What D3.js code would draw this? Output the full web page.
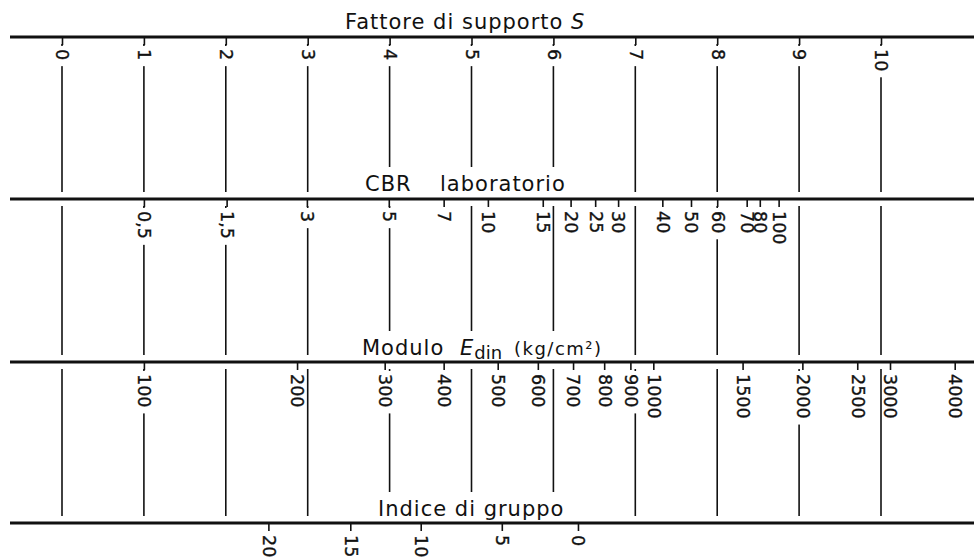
<!DOCTYPE html>
<html>
<head>
<meta charset="utf-8">
<script src="https://cdn.jsdelivr.net/npm/d3@7"></script>
<style>
  body { margin: 0; background: #fff; }
  svg { display: block; font-family: "DejaVu Sans", sans-serif; }
</style>
</head>
<body>
<div id="chart"></div>
<script>
// support factor S, the reference scale of the nomogram
const sValues = [0, 1, 2, 3, 4, 5, 6, 7, 8, 9, 10]

// laboratory CBR, with the S value each tick lines up with
const cbrValues = [0.5, 1.5, 3, 5, 7, 10, 15, 20, 25, 30, 40, 50, 60, 70, 80, 100]
const cbrAtS = [1.00, 2.01, 2.99, 3.99, 4.66, 5.20, 5.87, 6.21, 6.51, 6.79, 7.33, 7.68, 8.00, 8.36, 8.52, 8.75]

// dynamic modulus E din (kg/cm2)
const edinValues = [100, 200, 300, 400, 500, 600, 700, 800, 900, 1000, 1500, 2000, 2500, 3000, 4000]
const edinAtS = [1.00, 2.87, 3.94, 4.66, 5.32, 5.81, 6.24, 6.62, 6.94, 7.22, 8.31, 9.04, 9.71, 10.11, 10.90]

// group index
const groupValues = [20, 15, 10, 5, 0]
const groupAtS = [2.52, 3.52, 4.38, 5.37, 6.30]

const width = 974
const height = 560
const axisY = [37, 199, 362, 523]
const gap = 7
const ink = "#111"

const svg = d3.select("#chart")
  .append("svg")
  .attr("width", width)
  .attr("height", height)

svg.append("rect")
  .attr("width", width)
  .attr("height", height)
  .attr("fill", "#fff")

var s = d3.scaleLinear()
  .domain([0, 10])
  .range([62, 881])

// the other scales are piecewise, through their S equivalents
var cbr = d3.scaleLinear().domain(cbrValues).range(cbrAtS.map(s))
var edin = d3.scaleLinear().domain(edinValues).range(edinAtS.map(s))
var group = d3.scaleLinear().domain(groupValues).range(groupAtS.map(s))

const guides = svg.append("g")
const masks = svg.append("g")
const front = svg.append("g")

// vertical guide lines at every S value, broken at each axis
for (let i = 0; i < 3; i++) {
  guides.selectAll(null)
    .data(sValues)
    .enter()
    .append("line")
      .attr("x1", d => s(d))
      .attr("x2", d => s(d))
      .attr("y1", axisY[i] + gap)
      .attr("y2", axisY[i + 1] - gap)
      .attr("stroke", ink)
      .attr("stroke-width", 1.6)
}

const comma = d => String(d).replace(".", ",")

function drawAxis(scale, values, y) {
  const g = front.append("g")
    .attr("transform", "translate(0," + y + ")")
    .call(d3.axisBottom(scale).tickValues(values).tickSize(8).tickFormat(comma))
  g.attr("font-family", null).attr("font-size", null)
  g.select(".domain").remove()
  g.selectAll(".tick line")
    .attr("stroke", ink)
    .attr("stroke-width", 1.6)
  g.selectAll(".tick text")
    .attr("x", 12)
    .attr("y", 0)
    .attr("dy", "0.35em")
    .attr("text-anchor", "start")
    .attr("transform", "rotate(90)")
    .attr("fill", ink)
    .attr("stroke", ink)
    .attr("stroke-width", 0.35)
    .style("font-size", "17.5px")

  // white box under each label so guide lines stop around it
  g.selectAll(".tick text").each(function(d) {
    const len = this.getComputedTextLength()
    masks.append("rect")
      .attr("x", scale(d) - 7.5)
      .attr("y", y + 9)
      .attr("width", 15)
      .attr("height", len + 9)
      .attr("fill", "#fff")
  })

  front.append("line")
    .attr("x1", 10)
    .attr("x2", width)
    .attr("y1", y)
    .attr("y2", y)
    .attr("stroke", ink)
    .attr("stroke-width", 3.2)
}

drawAxis(s, sValues, axisY[0])
drawAxis(cbr, cbrValues, axisY[1])
drawAxis(edin, edinValues, axisY[2])
drawAxis(group, groupValues, axisY[3])

// axis titles
function title(x, y) {
  return front.append("text")
    .attr("x", x)
    .attr("y", y)
    .attr("fill", ink)
    .style("font-size", "21px")
    .style("letter-spacing", "1px")
}

function maskTitle(t) {
  const b = t.node().getBBox()
  masks.append("rect")
    .attr("x", b.x - 2)
    .attr("y", b.y - 5)
    .attr("width", b.width + 4)
    .attr("height", b.height + 5)
    .attr("fill", "#fff")
}

const t1 = title(345, 29)
t1.append("tspan").text("Fattore di supporto ")
t1.append("tspan").style("font-style", "italic").text("S")

const t2 = title(365, 191)
t2.append("tspan").text("CBR")
t2.append("tspan").attr("x", 440).text("laboratorio")
maskTitle(t2)

const t3 = title(362, 355)
t3.append("tspan").text("Modulo")
t3.append("tspan").attr("x", 460).style("font-style", "italic").text("E")
t3.append("tspan").attr("dy", 4).style("font-size", "18px").style("letter-spacing", "0px").text("din")
t3.append("tspan").attr("x", 514).attr("dy", -4).style("font-size", "18px").style("letter-spacing", "1.5px").text("(kg/cm²)")
maskTitle(t3)

const t4 = title(378, 516)
t4.text("Indice di gruppo")
maskTitle(t4)
</script>
</body>
</html>
